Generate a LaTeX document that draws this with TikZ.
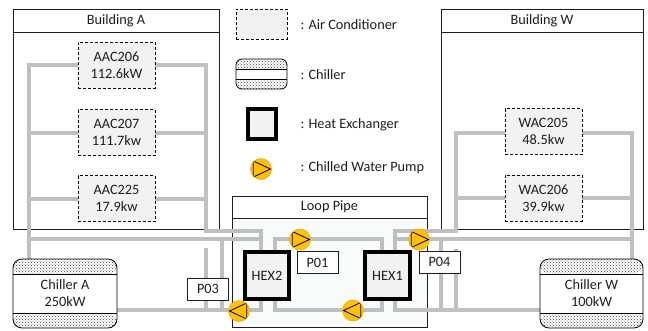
\documentclass[tikz,border=0pt]{standalone}
\usepackage{fontspec}
\setmainfont{Carlito}
\usetikzlibrary{patterns, backgrounds}
\definecolor{pipegray}{RGB}{191,191,191}
\definecolor{boxgray}{RGB}{242,242,242}
\definecolor{pumpyellow}{RGB}{255,192,0}
\definecolor{pumpedge}{RGB}{235,170,30}
\definecolor{loopgreen}{RGB}{248,252,248}
\definecolor{inkgray}{RGB}{30,30,30}
\pgfdeclarelayer{rooms}
\pgfsetlayers{rooms,background,main}

\tikzset{
  roombox/.style={draw=inkgray, line width=0.8pt, minimum width=#1, inner sep=0pt},
  headbox/.style={roombox=#1, fill=white, minimum height=23pt},
  acbox/.style={draw=black, densely dashed, line width=0.7pt, fill=boxgray, minimum width=77pt, minimum height=46pt, align=center, inner sep=0pt},
  chillerbox/.style={draw=black, line width=0.8pt, fill=white, rounded corners=9pt, align=center, inner sep=0pt,
    path picture={
      \fill[pattern=crosshatch dots, pattern color=black!75] (path picture bounding box.north west) rectangle ([yshift=-#1]path picture bounding box.north east);
      \fill[pattern=crosshatch dots, pattern color=black!75] (path picture bounding box.south west) rectangle ([yshift=#1]path picture bounding box.south east);
      \draw[line width=0.8pt] ([yshift=-#1]path picture bounding box.north west) -- ([yshift=-#1]path picture bounding box.north east);
      \draw[line width=0.8pt] ([yshift=#1]path picture bounding box.south west) -- ([yshift=#1]path picture bounding box.south east);
    }},
  hexbox/.style={draw=black, line width=4.5pt, fill=boxgray, align=center, inner sep=0pt},
  tagbox/.style={draw=inkgray, line width=0.8pt, fill=white, minimum width=41pt, minimum height=22pt, inner sep=0pt},
  pumpbox/.style={circle, draw=pumpedge, line width=0.6pt, fill=pumpyellow, minimum size=21pt, inner sep=0pt,
    path picture={
      \draw[black, line width=0.8pt, line join=miter] ([shift={(#1*-7.7pt,-8pt)}]path picture bounding box.center)
        -- ([shift={(#1*9.5pt,0pt)}]path picture bounding box.center)
        -- ([shift={(#1*-7.7pt,8pt)}]path picture bounding box.center) -- cycle;
    }},
  pipe/.style={draw=pipegray, line width=4pt, line cap=butt, line join=miter},
  legendtext/.style={anchor=west, inner sep=0pt},
}

\begin{document}
\begin{tikzpicture}[x=1pt, y=-1pt, every node/.style={font=\fontsize{14.3}{17}\selectfont, text=inkgray}]
  \useasboundingbox (0,0) rectangle (648,330);

  % rooms
  \begin{pgfonlayer}{rooms}
    \node[roombox=206pt, minimum height=220pt] (buildingA) at (116,119) {};
    \node[roombox=202pt, minimum height=220pt] (buildingW) at (542,119) {};
    \node[roombox=195pt, minimum height=131pt, fill=loopgreen] (loopPipe) at (329.5,261.5) {};
  \end{pgfonlayer}
  \node[headbox=206pt] (headA) at (116,20.5) {Building A};
  \node[headbox=202pt] (headW) at (542,20.5) {Building W};
  \node[headbox=195pt, minimum height=22pt] (headLoop) at (329.5,207) {Loop Pipe};

  % air conditioners
  \node[acbox] (aac206) at (116.5,65) {AAC206\\112.6kW};
  \node[acbox] (aac207) at (116.5,132.5) {AAC207\\111.7kw};
  \node[acbox] (aac225) at (116.5,198.5) {AAC225\\17.9kw};
  \node[acbox] (wac205) at (543.5,131.5) {WAC205\\48.5kw};
  \node[acbox] (wac206) at (543.5,198) {WAC206\\39.9kw};

  % chillers
  \node[chillerbox=15pt, minimum width=104pt, minimum height=69pt] (chillerA) at (65,293.5) {Chiller A\\250kW};
  \node[chillerbox=15pt, minimum width=103pt, minimum height=69pt] (chillerW) at (591.5,293.5) {Chiller W\\100kW};

  % heat exchangers
  \node[hexbox, minimum width=44pt, minimum height=47pt] (hex2) at (267,275.5) {HEX2};
  \node[hexbox, minimum width=45pt, minimum height=47pt] (hex1) at (387.5,275.5) {HEX1};

  % pumps and tags
  \node[pumpbox=1] (pumpP01) at (300,239.5) {};
  \node[pumpbox=-1] (pumpP03) at (239,311) {};
  \node[pumpbox=-1] (pumpRet) at (353,310.5) {};
  \node[pumpbox=1] (pumpP04) at (419,239.5) {};
  \node[tagbox] (tagP01) at (317.5,262.5) {P01};
  \node[tagbox] (tagP03) at (208,289) {P03};
  \node[tagbox] (tagP04) at (439.5,262) {P04};

  % legend
  \node[acbox, minimum width=51pt, minimum height=30pt] (legendAc) at (261.5,24) {};
  \node[chillerbox=10pt, minimum width=51pt, minimum height=30pt, rounded corners=6pt] (legendChiller) at (261.5,74) {};
  \node[hexbox, minimum width=28pt, minimum height=30pt] (legendHex) at (262,124) {};
  \node[pumpbox=1] (legendPump) at (261,169) {};
  \node[legendtext] (textAc) at (300.5,25) {:\hspace{4pt}Air Conditioner};
  \node[legendtext] (textChiller) at (300.5,75) {:\hspace{4pt}Chiller};
  \node[legendtext] (textHex) at (300.5,124.5) {:\hspace{4pt}Heat Exchanger};
  \node[legendtext] (textPump) at (300.5,167.5) {:\hspace{4pt}Chilled Water Pump};

  % pipe levels
  \coordinate (aLeft) at (29,65);
  \coordinate (aRight) at (205.7,65);
  \coordinate (aTurn) at (205.7,230.5);
  \coordinate (aLow) at (29,239);
  \coordinate (aTee) at (221.5,239);
  \coordinate (aStub) at (205.7,248);
  \coordinate (aBottom) at (260.5,310);
  \coordinate (loopL) at (275,239);
  \coordinate (loopR) at (381.7,239);
  \coordinate (loopBotL) at (275,310);
  \coordinate (loopBotR) at (381.7,310);
  \coordinate (wLeft) at (456,133);
  \coordinate (wRight) at (632,133);
  \coordinate (wTurn) at (456,231);
  \coordinate (wLow) at (632,239);
  \coordinate (wTee) at (441,239);
  \coordinate (wStub) at (456,249);
  \coordinate (wBottom) at (395,310);

  \begin{scope}[on background layer]
    % Building A
    \draw[pipe] (aac206.west) -- (aLeft) -- (chillerA.north -| aLeft);
    \draw[pipe] (aac207.west) -- (aac207.west -| aLeft);
    \draw[pipe] (aac225.west) -- (aac225.west -| aLeft);
    \draw[pipe] (aac206.east) -- (aRight) -- (aTurn) -- (aTurn -| aBottom) -- (hex2.north -| aBottom);
    \draw[pipe] (aac207.east) -- (aac207.east -| aRight);
    \draw[pipe] (aac225.east) -- (aac225.east -| aRight);
    \draw[pipe] (aLow) -- (aLow -| aBottom);
    \draw[pipe] (aTee) -- (aTee |- aBottom);
    \draw[pipe] (aStub) -- (aStub |- aBottom);
    \draw[pipe] (chillerA.east |- aBottom) -- (aBottom) -- (hex2.south -| aBottom);
    % loop
    \draw[pipe] (hex2.north -| loopL) -- (loopL) -- (loopR) -- (hex1.north -| loopR);
    \draw[pipe] (hex2.south -| loopBotL) -- (loopBotL) -- (loopBotR) -- (hex1.south -| loopBotR);
    % Building W
    \draw[pipe] (wac205.west |- wLeft) -- (wLeft) -- (wTurn) -- (wTurn -| wBottom) -- (hex1.north -| wBottom);
    \draw[pipe] (wac205.east |- wRight) -- (wRight) -- (chillerW.north -| wRight);
    \draw[pipe] (wac206.west) -- (wac206.west -| wLeft);
    \draw[pipe] (wac206.east) -- (wac206.east -| wRight);
    \draw[pipe] (wLow) -- (wLow -| wBottom);
    \draw[pipe] (wTee) -- (wTee |- wBottom);
    \draw[pipe] (wStub) -- (wStub |- wBottom);
    \draw[pipe] (chillerW.west |- wBottom) -- (wBottom) -- (hex1.south -| wBottom);
  \end{scope}
\end{tikzpicture}
\end{document}
